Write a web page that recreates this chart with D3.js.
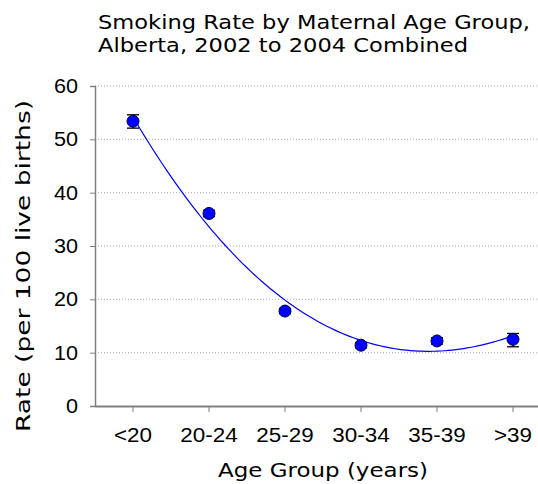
<!DOCTYPE html>
<html>
<head>
<meta charset="utf-8">
<script src="https://cdn.jsdelivr.net/npm/d3@7"></script>
<style>
    body { margin: 0; background: #fff; }
    svg { display: block; font-family: 'DejaVu Sans', Verdana, sans-serif; }
</style>
</head>
<body>
<svg id="chart"></svg>
<script>
const ageGroups = ['<20', '20-24', '25-29', '30-34', '35-39', '>39']
const rates = [53.4, 36.1, 17.8, 11.4, 12.2, 12.5]
const lowerCI = [52.1, 35.5, 17.3, 10.9, 11.6, 11.1]
const upperCI = [54.6, 36.7, 18.3, 11.9, 12.8, 13.6]
const yTicks = [0, 10, 20, 30, 40, 50, 60]
const titleLines = ['Smoking Rate by Maternal Age Group,', 'Alberta, 2002 to 2004 Combined']
const titleWidths = [432, 370]

const width = 538
const height = 484
const margin = { top: 86, left: 95, bottom: 78, right: -13 }
const iwidth = width - margin.left - margin.right
const iheight = height - margin.top - margin.bottom

const data = ageGroups.map((name, i) => ({
    name, i, rate: rates[i], lo: lowerCI[i], hi: upperCI[i]
}))

const svg = d3.select('#chart').attr('width', width).attr('height', height)

// the original type runs wide; stretch text a bit horizontally
function widen(sel, k) {
    sel.each(function () {
        const w = this.getComputedTextLength()
        d3.select(this).attr('textLength', w * k).attr('lengthAdjust', 'spacingAndGlyphs')
    })
}

// title
svg.append('g')
    .selectAll('text')
    .data(titleLines)
    .enter()
    .append('text')
    .attr('x', 98)
    .attr('y', (d, i) => 29 + i * 22.5)
    .attr('textLength', (d, i) => titleWidths[i])
    .attr('lengthAdjust', 'spacingAndGlyphs')
    .style('font-size', '19.5px')
    .style('fill', '#000')
    .text((d) => d)

let g = svg.append('g').attr('transform', `translate(${margin.left},${margin.top})`)

const x = d3.scaleBand().domain(ageGroups).range([0, iwidth])
const cx = (name) => x(name) + x.bandwidth() / 2
const y = d3.scaleLinear().domain([0, 60]).range([iheight, 0])

// gridlines
g.append('g')
    .selectAll('line')
    .data(yTicks.filter((t) => t > 0))
    .enter()
    .append('line')
    .attr('x1', 0)
    .attr('x2', iwidth)
    .attr('y1', (d) => y(d))
    .attr('y2', (d) => y(d))
    .style('stroke', '#b0b0b0')
    .style('stroke-width', 1)
    .style('stroke-dasharray', '1,2')

// axes
const yAxis = g.append('g')
    .call(d3.axisLeft(y).tickValues(yTicks).tickSize(5).tickPadding(12))
yAxis.select('.domain').style('stroke', '#808080').style('stroke-width', 1.5)
yAxis.selectAll('.tick line').style('stroke', '#808080')
yAxis.selectAll('.tick text').style('font-size', '20px').style('fill', '#000').call(widen, 1.08)

const xAxis = g.append('g')
    .attr('transform', `translate(0,${iheight})`)
    .call(d3.axisBottom(x).tickSize(6).tickSizeOuter(0).tickPadding(16))
xAxis.select('.domain').style('stroke', '#808080').style('stroke-width', 2)
xAxis.selectAll('.tick line').style('stroke', '#808080')
xAxis.selectAll('.tick text').style('font-size', '20px').style('fill', '#000').call(widen, 1.12)

// axis titles
svg.append('text')
    .attr('x', 218)
    .attr('y', 477)
    .attr('textLength', 210)
    .attr('lengthAdjust', 'spacingAndGlyphs')
    .style('font-size', '20px')
    .text('Age Group (years)')

svg.append('text')
    .attr('transform', 'translate(30,432) rotate(-90)')
    .attr('textLength', 332)
    .attr('lengthAdjust', 'spacingAndGlyphs')
    .style('font-size', '20px')
    .text('Rate (per 100 live births)')

// cubic trendline (least squares fit over group index)
function polyfit(xs, ys, order) {
    const n = order + 1
    const A = d3.range(n).map(() => new Array(n + 1).fill(0))
    xs.forEach((xv, k) => {
        for (let r = 0; r < n; r++) {
            for (let c = 0; c < n; c++) A[r][c] += Math.pow(xv, r + c)
            A[r][n] += ys[k] * Math.pow(xv, r)
        }
    })
    for (let p = 0; p < n; p++) {
        for (let r = p + 1; r < n; r++) {
            const f = A[r][p] / A[p][p]
            for (let c = p; c <= n; c++) A[r][c] -= f * A[p][c]
        }
    }
    const coef = new Array(n).fill(0)
    for (let r = n - 1; r >= 0; r--) {
        let s = A[r][n]
        for (let c = r + 1; c < n; c++) s -= A[r][c] * coef[c]
        coef[r] = s / A[r][r]
    }
    return (t) => coef.reduce((acc, cf, k) => acc + cf * Math.pow(t, k), 0)
}
const fit = polyfit(data.map((d) => d.i), rates, 3)
const xi = d3.scaleLinear().domain([0, ageGroups.length - 1])
    .range([cx(ageGroups[0]), cx(ageGroups[ageGroups.length - 1])])
const trend = d3.range(0, ageGroups.length - 1 + 1e-9, 0.05)

g.append('path')
    .datum(trend)
    .attr('d', d3.line().x((t) => xi(t)).y((t) => y(fit(t))))
    .style('fill', 'none')
    .style('stroke', '#0000ff')
    .style('stroke-width', 1.2)

// error bars
const eb = g.append('g').selectAll('g').data(data).enter().append('g')
eb.append('line')
    .attr('x1', (d) => cx(d.name)).attr('x2', (d) => cx(d.name))
    .attr('y1', (d) => y(d.lo)).attr('y2', (d) => y(d.hi))
eb.append('line')
    .attr('x1', (d) => cx(d.name) - 6).attr('x2', (d) => cx(d.name) + 6)
    .attr('y1', (d) => y(d.lo)).attr('y2', (d) => y(d.lo))
eb.append('line')
    .attr('x1', (d) => cx(d.name) - 6).attr('x2', (d) => cx(d.name) + 6)
    .attr('y1', (d) => y(d.hi)).attr('y2', (d) => y(d.hi))
eb.selectAll('line').style('stroke', '#000').style('stroke-width', 1.3)

// points
g.append('g')
    .selectAll('circle')
    .data(data)
    .enter()
    .append('circle')
    .attr('cx', (d) => cx(d.name))
    .attr('cy', (d) => y(d.rate))
    .attr('r', 6)
    .style('fill', '#0000ff')
    .style('stroke', '#000040')
    .style('stroke-width', 1)
</script>
</body>
</html>
